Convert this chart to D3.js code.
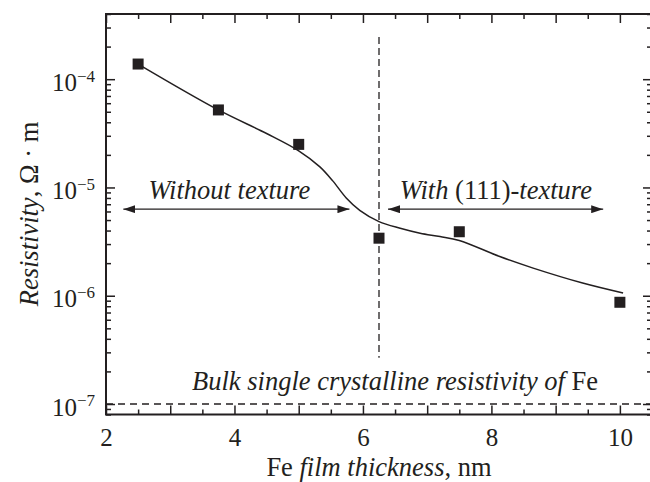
<!DOCTYPE html>
<html>
<head>
<meta charset="utf-8">
<script src="https://cdn.jsdelivr.net/npm/d3@7"></script>
<style>
  body { margin: 0; background: #fff; }
  svg { display: block; font-family: "Liberation Serif", "Times New Roman", serif; }
</style>
</head>
<body>
<div id="chart"></div>
<script>
// measured points
const thickness = [2.5, 3.75, 5, 6.25, 7.5, 10];
const resistivity = [1.38e-4, 5.2e-5, 2.5e-5, 3.4e-6, 3.9e-6, 8.7e-7];

// smooth guide line
const fitThickness = [2.5, 3.75, 4.5, 5.0, 5.33, 5.53, 5.74, 5.95, 6.25, 6.58, 6.89, 7.2, 7.5, 8.13, 8.65, 9.42, 10.05];
const fitResistivity = [1.38e-4, 5.2e-5, 3.15e-5, 2.18e-5, 1.55e-5, 1.15e-5, 8.0e-6, 6.15e-6, 4.84e-6, 4.2e-6, 3.78e-6, 3.52e-6, 3.24e-6, 2.3e-6, 1.8e-6, 1.31e-6, 1.06e-6];

const xTicks = [2, 3, 4, 5, 6, 7, 8, 9, 10];
const xMinorTicks = [2.5, 3.5, 4.5, 5.5, 6.5, 7.5, 8.5, 9.5, 10.5];
const xLabels = [2, 4, 6, 8, 10];
const yTicks = [1e-7, 1e-6, 1e-5, 1e-4];

const bulkResistivity = 1e-7;
const transitionThickness = 6.25;
const transitionRange = [2.67e-7, 2.45e-4];
const arrowLevel = 6.3e-6;
const leftArrow = [2.27, 5.79];
const rightArrow = [6.39, 9.74];

const ink = "#231f20";
const serif = "'Liberation Serif', 'Times New Roman', serif";
const width = 650, height = 482;
const plot = {left: 106, right: 652, top: 14, bottom: 414.5};

const svg = d3.select("#chart")
    .append("svg")
    .attr("width", width)
    .attr("height", height);

const x = d3.scaleLinear()
    .domain([2, 10.5])
    .range([plot.left, plot.right]);

const y = d3.scaleLog()
    .domain([8e-8, 4e-4])
    .range([plot.bottom, plot.top]);

const yMinor = y.ticks().filter(d => Math.abs(Math.log10(d) - Math.round(Math.log10(d))) > 1e-6);

// frame first, ticks on top of it
svg.append("path")
    .attr("d", `M${plot.left},${plot.top}H${plot.right}V${plot.bottom}H${plot.left}Z`)
    .style("fill", "none")
    .attr("stroke", ink)
    .attr("stroke-width", 2);

function styleAxis(g) {
    g.attr("font-family", serif);
    g.select(".domain").remove();
    g.selectAll(".tick line").attr("stroke", ink).attr("stroke-width", 1.5);
    g.selectAll(".tick text").attr("fill", ink).attr("font-size", 25);
}

// inward ticks: the axis facing the other way, so tick sizes stay positive
function inwardTicks(axisFn, scale, values, size, at, horizontal) {
    svg.append("g")
        .attr("transform", horizontal ? `translate(0, ${at})` : `translate(${at}, 0)`)
        .call(axisFn(scale).tickValues(values).tickSize(size).tickFormat(""))
        .call(styleAxis);
}

inwardTicks(d3.axisTop, x, xTicks, 9, plot.bottom, true);
inwardTicks(d3.axisTop, x, xMinorTicks, 5, plot.bottom, true);
inwardTicks(d3.axisBottom, x, xTicks, 9, plot.top, true);
inwardTicks(d3.axisBottom, x, xMinorTicks, 5, plot.top, true);
inwardTicks(d3.axisRight, y, yTicks, 9, plot.left, false);
inwardTicks(d3.axisRight, y, yMinor, 5, plot.left, false);
inwardTicks(d3.axisLeft, y, yTicks, 9, plot.right, false);
inwardTicks(d3.axisLeft, y, yMinor, 5, plot.right, false);

// tick labels
svg.append("g")
    .attr("transform", `translate(0, ${plot.bottom})`)
    .call(d3.axisBottom(x).tickValues(xLabels).tickSize(0).tickPadding(14))
    .call(styleAxis);

const leftAxis = svg.append("g")
    .attr("transform", `translate(${plot.left}, 0)`)
    .call(d3.axisLeft(y).tickValues(yTicks).tickSize(0).tickPadding(11))
    .call(styleAxis);

leftAxis.selectAll(".tick text")
    .attr("dy", "0.45em")
    .each(function(d) {
        const t = d3.select(this);
        t.text(null);
        t.append("tspan").text("10");
        t.append("tspan")
            .attr("dy", "-0.55em")
            .attr("font-size", 17)
            .text("\u2212" + Math.abs(Math.round(Math.log10(d))));
    });

// bulk resistivity level
svg.append("line")
    .attr("x1", x(2)).attr("x2", x(10.5))
    .attr("y1", y(bulkResistivity)).attr("y2", y(bulkResistivity))
    .attr("stroke", ink)
    .attr("stroke-width", 1.3)
    .attr("stroke-dasharray", "7,5");

// texture boundary
svg.append("line")
    .attr("x1", x(transitionThickness)).attr("x2", x(transitionThickness))
    .attr("y1", y(transitionRange[1])).attr("y2", y(transitionRange[0]))
    .attr("stroke", ink)
    .attr("stroke-width", 1.3)
    .attr("stroke-dasharray", "7,4");

// arrowheads
svg.append("defs").append("marker")
    .attr("id", "head")
    .attr("viewBox", "0 0 12 8")
    .attr("refX", 12)
    .attr("refY", 4)
    .attr("markerUnits", "userSpaceOnUse")
    .attr("markerWidth", 12)
    .attr("markerHeight", 8)
    .attr("orient", "auto-start-reverse")
    .append("path")
    .attr("d", "M0,0L12,4L0,8Z")
    .attr("fill", ink);

[leftArrow, rightArrow].forEach(function(a) {
    svg.append("line")
        .attr("x1", x(a[0])).attr("x2", x(a[1]))
        .attr("y1", y(arrowLevel)).attr("y2", y(arrowLevel))
        .attr("stroke", ink)
        .attr("stroke-width", 1.3)
        .attr("marker-start", "url(#head)")
        .attr("marker-end", "url(#head)");
});

// fitted curve
const line = d3.line()
    .x((d, i) => x(fitThickness[i]))
    .y(d => y(d))
    .curve(d3.curveCatmullRom.alpha(0.5));

svg.append("path")
    .datum(fitResistivity)
    .attr("d", line)
    .attr("fill", "none")
    .attr("stroke", ink)
    .attr("stroke-width", 1.5);

// markers
svg.selectAll(".dot")
    .data(resistivity)
    .enter().append("rect")
    .attr("class", "dot")
    .attr("x", (d, i) => x(thickness[i]) - 5.5)
    .attr("y", d => y(d) - 5.5)
    .attr("width", 11)
    .attr("height", 11)
    .attr("fill", ink);

// annotations
const leftText = svg.append("text")
    .attr("x", x(3.92))
    .attr("y", 199)
    .attr("text-anchor", "middle")
    .attr("fill", ink)
    .attr("font-size", 26.5);
leftText.append("tspan").attr("font-style", "italic").text("Without texture");

const rightText = svg.append("text")
    .attr("x", x(8.07))
    .attr("y", 199)
    .attr("text-anchor", "middle")
    .attr("fill", ink)
    .attr("font-size", 26.5);
rightText.append("tspan").attr("font-style", "italic").text("With ");
rightText.append("tspan").text("(111)-");
rightText.append("tspan").attr("font-style", "italic").text("texture");

const bulkText = svg.append("text")
    .attr("x", x(6.5))
    .attr("y", 390)
    .attr("text-anchor", "middle")
    .attr("fill", ink)
    .attr("font-size", 26.5);
bulkText.append("tspan").attr("font-style", "italic").text("Bulk single crystalline resistivity of ");
bulkText.append("tspan").text("Fe");

// axis titles
const xTitle = svg.append("text")
    .attr("x", (plot.left + plot.right) / 2)
    .attr("y", 476)
    .attr("text-anchor", "middle")
    .attr("fill", ink)
    .attr("font-size", 26.5);
xTitle.append("tspan").text("Fe ");
xTitle.append("tspan").attr("font-style", "italic").text("film thickness");
xTitle.append("tspan").text(", nm");

const yTitle = svg.append("text")
    .attr("transform", "translate(38, 214) rotate(-90)")
    .attr("text-anchor", "middle")
    .attr("fill", ink)
    .attr("font-size", 26.5);
yTitle.append("tspan").attr("font-style", "italic").text("Resistivity");
yTitle.append("tspan").text(", \u03a9 \u00b7 m");
</script>
</body>
</html>
